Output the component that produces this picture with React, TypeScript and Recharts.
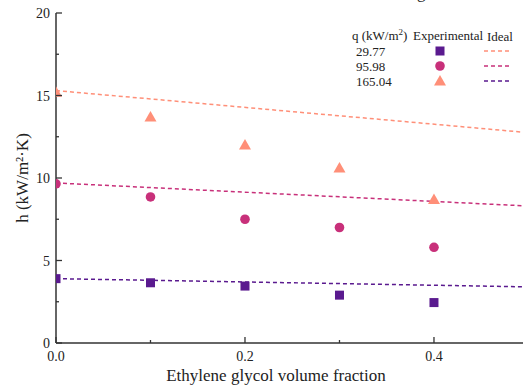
import React from 'react';
import { ComposedChart, Scatter, Line, XAxis, YAxis } from 'recharts';

const fractions = [0, 0.1, 0.2, 0.3, 0.4];
const exp2977 = [3.9, 3.65, 3.45, 2.9, 2.45];
const exp9598 = [9.65, 8.85, 7.5, 7.0, 5.8];
const exp16504 = [15.2, 13.7, 12.0, 10.6, 8.7];

const idealFractions = [0, 0.5];
const ideal2977 = [3.9, 3.4];
const ideal9598 = [9.7, 8.3];
const ideal16504 = [15.3, 12.75];

const xTicks = [0, 0.1, 0.2, 0.3, 0.4, 0.5];
const xLabels = ['0.0', '', '0.2', '', '0.4', ''];
const yTicks = [0, 2.5, 5, 7.5, 10, 12.5, 15, 17.5, 20];
const yLabels = ['0', '', '5', '', '10', '', '15', '', '20'];

const legendRows = ['29.77', '95.98', '165.04'];

const PURPLE = '#5a1a8f';
const PINK = '#c8307a';
const SALMON = '#ff8f78';
const AXIS = '#333333';
const FONT = '"Liberation Serif", "DejaVu Serif", serif';

const toPoints = (xs: number[], ys: number[]) => xs.map((x, i) => ({ x, h: ys[i] }));

const SquareShape = (props: any) => {
  const { cx, cy, fill } = props;
  if (cx == null || cy == null) return null;
  return <rect x={cx - 4.5} y={cy - 4.5} width={9} height={9} fill={fill} />;
};
const CircleShape = (props: any) => {
  const { cx, cy, fill } = props;
  if (cx == null || cy == null) return null;
  return <circle cx={cx} cy={cy} r={4.8} fill={fill} />;
};
const TriangleShape = (props: any) => {
  const { cx, cy, fill } = props;
  if (cx == null || cy == null) return null;
  return <polygon points={`${cx - 6},${cy + 4.5} ${cx + 6},${cy + 4.5} ${cx},${cy - 6}`} fill={fill} />;
};

const BottomTick = (props: any) => {
  const { x, y, index } = props;
  const label = xLabels[index] ?? '';
  const major = label !== '';
  return (
    <g>
      <line x1={x} y1={y} x2={x} y2={y - (major ? 6 : 3)} stroke={AXIS} strokeWidth={1.3} />
      {label && (
        <text x={x} y={y + 18} textAnchor="middle" fontSize={14} fill="#222" fontFamily={FONT}>
          {label}
        </text>
      )}
    </g>
  );
};

const TopTick = (props: any) => {
  const { x, y, index } = props;
  const major = (xLabels[index] ?? '') !== '';
  return <line x1={x} y1={y} x2={x} y2={y + (major ? 6 : 3)} stroke={AXIS} strokeWidth={1.3} />;
};

const LeftTick = (props: any) => {
  const { x, y, index } = props;
  const label = yLabels[index] ?? '';
  const major = label !== '';
  return (
    <g>
      <line x1={x} y1={y} x2={x + (major ? 6 : 3)} y2={y} stroke={AXIS} strokeWidth={1.3} />
      {label && (
        <text x={x - 6} y={y + 5} textAnchor="end" fontSize={14} fill="#222" fontFamily={FONT}>
          {label}
        </text>
      )}
    </g>
  );
};

const Legend = () => {
  const rowY = [51, 66, 81];
  const markerFill = [PURPLE, PINK, SALMON];
  const dashColor = [SALMON, PINK, PURPLE];
  return (
    <svg width={523} height={100} style={{ position: 'absolute', left: 0, top: 0, pointerEvents: 'none' }}>
      <text x={417} y={-2} fontFamily={FONT} fontSize={17} fill="#222">g</text>
      <g fontFamily={FONT} fontSize={13} fill="#222">
        <text x={352} y={40}>
          q (kW/m<tspan dy={-5} fontSize={9}>2</tspan>
          <tspan dy={5}>)</tspan>
        </text>
        <text x={413} y={40}>Experimental</text>
        <text x={487} y={41}>Ideal</text>
        {legendRows.map((r, i) => (
          <text key={r} x={356} y={rowY[i] + 5}>{r}</text>
        ))}
      </g>
      <rect x={435.5} y={rowY[0] - 4.5} width={9} height={9} fill={markerFill[0]} />
      <circle cx={440} cy={rowY[1]} r={4.8} fill={markerFill[1]} />
      <polygon points={`434,${rowY[2] + 4.5} 446,${rowY[2] + 4.5} 440,${rowY[2] - 6}`} fill={markerFill[2]} />
      {rowY.map((y, i) => (
        <line key={i} x1={484} y1={y} x2={511} y2={y} stroke={dashColor[i]} strokeWidth={1.5} strokeDasharray="4 3" />
      ))}
    </svg>
  );
};

export default function App() {
  return (
    <div style={{ position: 'absolute', left: 0, top: 0, width: 523, height: 391, overflow: 'hidden', background: '#fff' }}>
      <ComposedChart width={540} height={391} margin={{ top: 13, right: 0, bottom: 0, left: 0 }}>
        <XAxis
          dataKey="x"
          type="number"
          domain={[0, 0.5122]}
          allowDataOverflow
          ticks={xTicks}
          interval={0}
          height={48}
          tickSize={0}
          tickMargin={0}
          tick={<BottomTick />}
          axisLine={{ stroke: AXIS, strokeWidth: 1.5 }}
          tickLine={false}
        />
        <XAxis
          xAxisId="top"
          orientation="top"
          dataKey="x"
          type="number"
          domain={[0, 0.5122]}
          allowDataOverflow
          ticks={xTicks}
          interval={0}
          height={0}
          tickSize={0}
          tickMargin={0}
          tick={<TopTick />}
          axisLine={{ stroke: AXIS, strokeWidth: 1.5 }}
          tickLine={false}
        />
        <YAxis
          dataKey="h"
          type="number"
          domain={[0, 20]}
          ticks={yTicks}
          interval={0}
          width={56}
          tickSize={0}
          tickMargin={0}
          tick={<LeftTick />}
          axisLine={{ stroke: AXIS, strokeWidth: 1.5 }}
          tickLine={false}
          label={{
            value: 'h (kW/m²·K)',
            angle: -90,
            position: 'insideLeft',
            offset: 22,
            style: { fontFamily: FONT, fontSize: 17, fill: '#222', textAnchor: 'middle' },
          }}
        />
        <Line data={toPoints(idealFractions, ideal16504)} dataKey="h" stroke={SALMON} strokeWidth={1.5} strokeDasharray="4 3" dot={false} isAnimationActive={false} />
        <Line data={toPoints(idealFractions, ideal9598)} dataKey="h" stroke={PINK} strokeWidth={1.5} strokeDasharray="4 3" dot={false} isAnimationActive={false} />
        <Line data={toPoints(idealFractions, ideal2977)} dataKey="h" stroke={PURPLE} strokeWidth={1.5} strokeDasharray="4 3" dot={false} isAnimationActive={false} />
        <Scatter data={toPoints(fractions, exp2977)} dataKey="h" fill={PURPLE} shape={<SquareShape />} isAnimationActive={false} />
        <Scatter data={toPoints(fractions, exp9598)} dataKey="h" fill={PINK} shape={<CircleShape />} isAnimationActive={false} />
        <Scatter data={toPoints(fractions, exp16504)} dataKey="h" fill={SALMON} shape={<TriangleShape />} isAnimationActive={false} />
      </ComposedChart>
      <div
        style={{
          position: 'absolute',
          left: 56,
          width: 484,
          top: 366,
          textAlign: 'center',
          fontFamily: FONT,
          fontSize: 17,
          color: '#222',
        }}
      >
        <span style={{ position: 'relative', left: -22 }}>Ethylene glycol volume fraction</span>
      </div>
      <Legend />
    </div>
  );
}
